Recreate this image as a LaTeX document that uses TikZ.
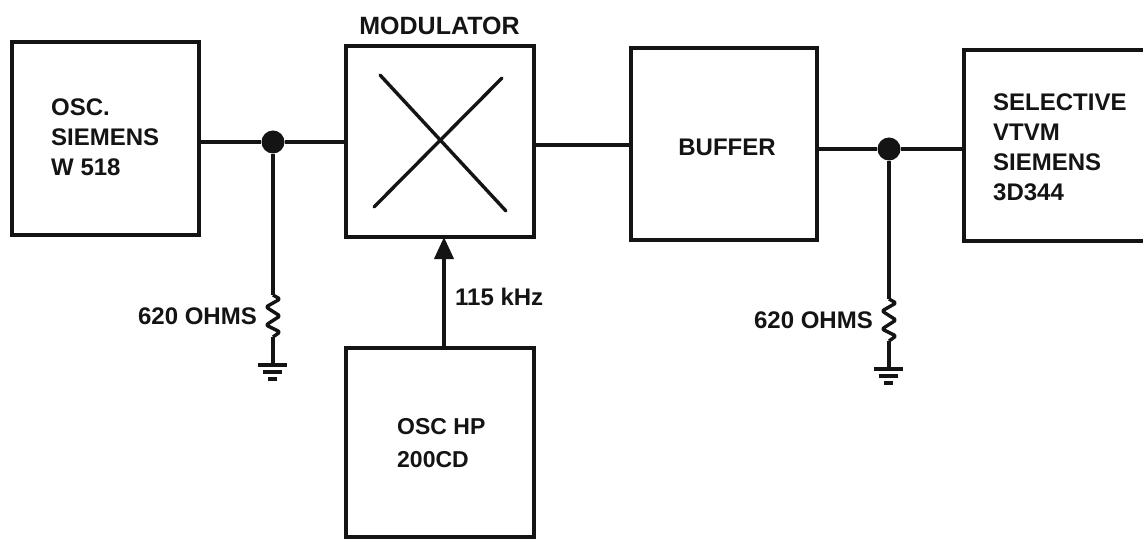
\documentclass[tikz,border=0pt]{standalone}
\usepackage{fontspec}
\setmainfont{Liberation Sans}
\usetikzlibrary{arrows.meta}
\tikzset{
  blk/.style={draw=black!92,line width=4.6bp,anchor=north west,inner sep=0pt,outer sep=0pt},
  lbl/.style={font=\fontsize{24bp}{30bp}\selectfont\bfseries,align=left,text=black!92,inner sep=0pt},
  wire/.style={draw=black!92,line width=4bp},
  thin wire/.style={draw=black!92,line width=3.4bp},
  dotn/.style={circle,fill=black!92,minimum size=23bp,inner sep=0pt},
  res/.style={draw=black!92,line width=3.4bp,line join=round,rounded corners=2bp},
  gnd/.style={draw=black!92,line width=3.4bp}
}
\begin{document}
\begin{tikzpicture}[x=1bp,y=-1bp]
\useasboundingbox[fill=white] (0,0) rectangle (1143,540);
% blocks
\node[blk,minimum width=187bp,minimum height=193bp] (osc) at (12,42) {};
\node[blk,minimum width=188bp,minimum height=191bp] (mod) at (346,46) {};
\node[blk,minimum width=186bp,minimum height=192bp] (buf) at (631,48) {};
\node[blk,minimum width=200bp,minimum height=191bp] (sel) at (964,50) {};
\node[blk,minimum width=188bp,minimum height=189bp] (hp) at (346,348) {};
% texts
\node[lbl,anchor=west] (osct) at (51,137) {OSC.\\SIEMENS\\W 518};
\node[lbl,anchor=south,font=\fontsize{25bp}{30bp}\selectfont\bfseries] (modt) at (439.5,35) {MODULATOR};
\node[lbl] (buft) at (727,147) {BUFFER};
\node[lbl,anchor=west] (selt) at (993,147.5) {SELECTIVE\\VTVM\\SIEMENS\\3D344};
\node[lbl,anchor=west,font=\fontsize{23bp}{33bp}\selectfont\bfseries] (hpt) at (397,443.5) {OSC HP\\200CD};
\node[lbl,anchor=west] (freq) at (455,297) {115 kHz};
\node[lbl,anchor=east] (r1t) at (257,316) {620 OHMS};
\node[lbl,anchor=east] (r2t) at (873,320) {620 OHMS};
% junctions
\node[dotn] (j1) at (273,142) {};
\node[dotn] (j2) at (889,149) {};
% horizontal wires
\draw[wire] (osc.east |- j1) -- (j1);
\draw[wire] (j1) -- (mod.west |- j1);
\draw[wire] (mod.east |- 0,145) -- (buf.west |- 0,145);
\draw[wire] (buf.east |- j2) -- (j2);
\draw[wire] (j2) -- (sel.west |- j2);
% modulator cross
\coordinate (c1) at (380,75); \coordinate (c2) at (506,211);
\coordinate (c3) at (374,207); \coordinate (c4) at (502,78);
\draw[thin wire,line cap=round] (c1) -- (c2);
\draw[thin wire,line cap=round] (c3) -- (c4);
% arrow
\draw[wire,-{Triangle[length=22bp,width=19bp]}] (hp.north -| 444,0) -- (mod.south -| 444,0);
% left resistor and ground
\coordinate (r1a) at (273,295); \coordinate (r1b) at (273,337); \coordinate (g1) at (273,365);
\draw[thin wire] (j1) -- (r1a);
\draw[res] (r1a) -- (280,299) -- (266,307) -- (280,316) -- (266,325) -- (280,332) -- (r1b);
\draw[thin wire] (r1b) -- (g1);
\draw[gnd] (258,365) -- (287,365);
\draw[gnd] (263,372) -- (282,372);
\draw[gnd] (268,379) -- (277,379);
% right resistor and ground
\coordinate (r2a) at (889,299); \coordinate (r2b) at (889,341); \coordinate (g2) at (889,369);
\draw[thin wire] (j2) -- (r2a);
\draw[res] (r2a) -- (896,303) -- (882,311) -- (896,320) -- (882,329) -- (896,336) -- (r2b);
\draw[thin wire] (r2b) -- (g2);
\draw[gnd] (874,369) -- (903,369);
\draw[gnd] (879,376) -- (898,376);
\draw[gnd] (884,383) -- (893,383);
\end{tikzpicture}
\end{document}
